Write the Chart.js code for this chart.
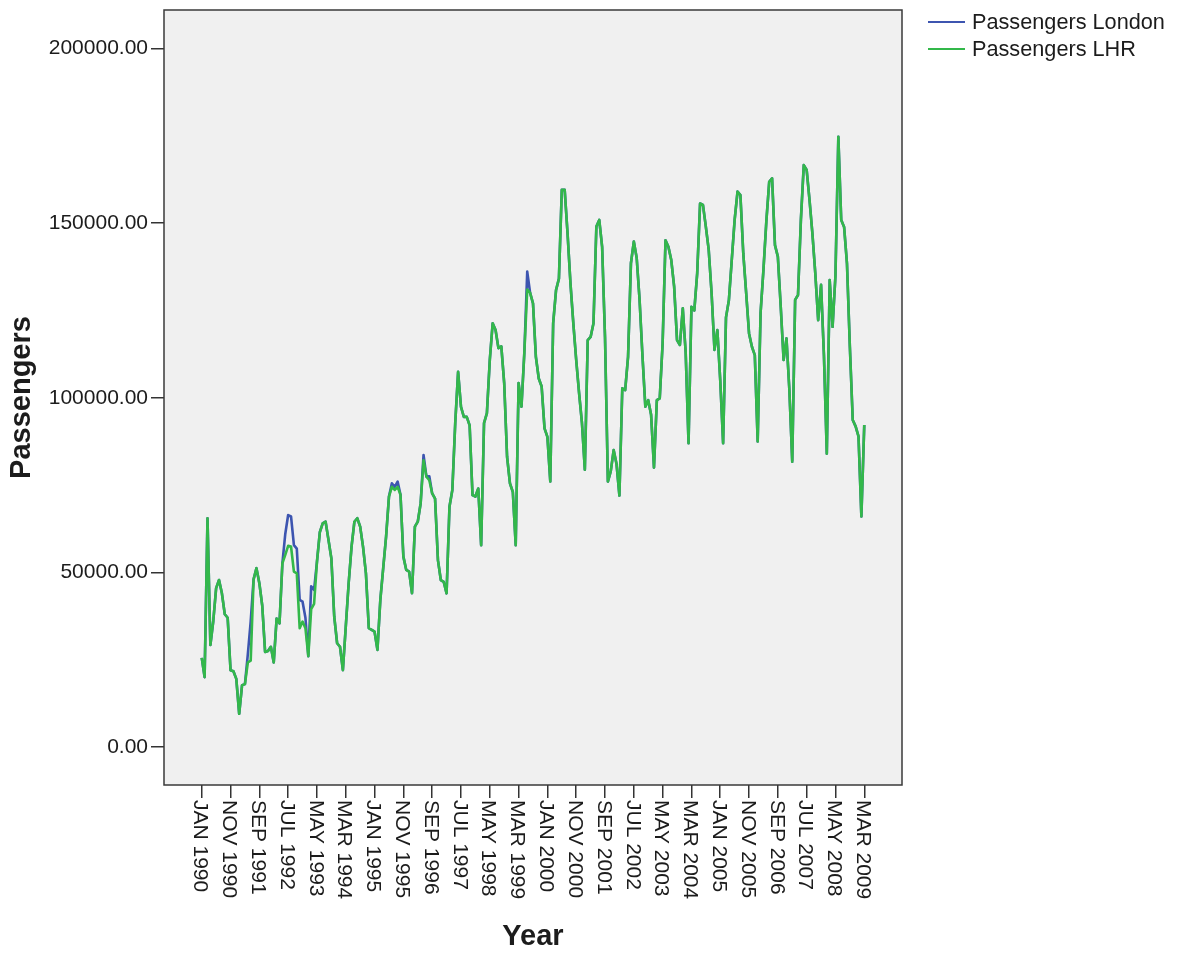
<!DOCTYPE html>
<html>
<head>
<meta charset="utf-8">
<script src="https://cdn.jsdelivr.net/npm/chart.js@4.4.1/dist/chart.umd.min.js"></script>
<style>
  html, body { margin: 0; padding: 0; background: #ffffff; }
  #wrap { width: 1184px; height: 955px; }
</style>
</head>
<body>
<div id="wrap"><canvas id="c" width="1184" height="955"></canvas></div>
<script>
// Monthly passengers, JAN 1990 – MAR 2009
const seriesNames = ['Passengers London', 'Passengers LHR'];
const seriesColors = ['#3d55b0', '#33b84a'];
const monthNames = ['JAN','FEB','MAR','APR','MAY','JUN','JUL','AUG','SEP','OCT','NOV','DEC'];
const startYear = 1990;

const xTickLabels = [
  'JAN 1990','NOV 1990','SEP 1991','JUL 1992','MAY 1993','MAR 1994',
  'JAN 1995','NOV 1995','SEP 1996','JUL 1997','MAY 1998','MAR 1999',
  'JAN 2000','NOV 2000','SEP 2001','JUL 2002','MAY 2003','MAR 2004',
  'JAN 2005','NOV 2005','SEP 2006','JUL 2007','MAY 2008','MAR 2009'
];
const xTickStep = 10;   // months between labelled ticks
const yTicks = [0, 50000, 100000, 150000, 200000];

const passengersLHR = [
  25500, 20000, 65500, 29200, 36000, 45500, 47800, 44000, 38000, 37000, 22000, 21700, // 1990
  19500,  9500, 17700, 18000, 24200, 24700, 48000, 51200, 46900, 40500, 27200, 27500, // 1991
  28700, 24200, 36800, 35400, 52600, 55000, 57600, 57400, 50200, 49700, 34000, 35900, // 1992
  34000, 26000, 39500, 41000, 53000, 61500, 64000, 64500, 59300, 54000, 37300, 29700, // 1993
  28700, 22000, 34400, 46800, 57300, 64500, 65500, 63100, 57300, 49700, 34000, 33500, // 1994
  33000, 27800, 42100, 51200, 60200, 71700, 74500, 73600, 74500, 72200, 54500, 50700, // 1995
  50200, 44000, 63100, 64500, 69800, 82100, 77400, 76400, 72600, 71100, 53500, 47800, // 1996
  47300, 44000, 68800, 73600, 92700, 107400, 97400, 94500, 94500, 92100, 72100, 71700, // 1997
  74000, 57800, 92700, 95600, 110800, 121300, 119400, 114200, 114700, 104200, 83100, 75500, // 1998
  73000, 57800, 104200, 97400, 113000, 131000, 130000, 127000, 111700, 105500, 103200, 91200, // 1999
  88800, 76000, 121300, 130800, 134100, 159500, 159500, 147000, 132800, 121300, 110800, 101300, // 2000
  92700, 79400, 116500, 117400, 121300, 149000, 150900, 143200, 117400, 76000, 79000, 85000, // 2001
  81000, 72000, 102700, 102200, 111700, 138500, 144700, 140000, 128000, 112000, 97400, 99300, // 2002
  95100, 80000, 99300, 99800, 115600, 145100, 143200, 139400, 131800, 116500, 115100, 125600, // 2003
  113000, 87000, 126000, 125000, 135600, 155600, 155200, 149000, 142300, 129900, 113700, 119400, // 2004
  105000, 87000, 123000, 127900, 139400, 150900, 159000, 158000, 141300, 130000, 118400, 114600, // 2005
  112200, 87500, 124200, 136600, 150400, 161800, 162800, 143700, 140400, 126100, 110800, 117000, // 2006
  102200, 81700, 128000, 129400, 150900, 166600, 165200, 156600, 147000, 135600, 122200, 132300, // 2007
  112200, 84000, 133700, 120300, 135000, 174700, 150900, 148900, 138400, 114600, 93600, 91800, // 2008
  88900, 66000, 92200                                                                        // 2009
];

const passengersLondon = [
  25500, 20000, 65500, 29200, 36000, 45500, 47800, 44000, 38000, 37000, 22000, 21700, // 1990
  19500,  9500, 17700, 18000, 26500, 36000, 48000, 51200, 46900, 40500, 27200, 27500, // 1991
  28700, 24200, 36800, 35400, 52600, 61000, 66400, 66000, 57800, 56800, 42100, 41600, // 1992
  37000, 26000, 46000, 45000, 53000, 61500, 64000, 64500, 59300, 54000, 37300, 29700, // 1993
  28700, 22000, 34400, 46800, 57300, 64500, 65500, 63100, 57300, 49700, 34000, 33500, // 1994
  33000, 27800, 42100, 51200, 60200, 71700, 75500, 74500, 76000, 72200, 54500, 50700, // 1995
  50200, 44000, 63100, 64500, 69800, 83600, 77400, 77500, 72600, 71100, 53500, 47800, // 1996
  47300, 44000, 68800, 73600, 92700, 107400, 97400, 94500, 94500, 92100, 72100, 71700, // 1997
  74000, 57800, 92700, 95600, 110800, 121300, 119400, 114200, 114700, 104200, 83100, 75500, // 1998
  73000, 57800, 104200, 97400, 113000, 136100, 130000, 127000, 111700, 105500, 103200, 91200, // 1999
  88800, 76000, 121300, 130800, 134100, 159500, 159500, 147000, 132800, 121300, 110800, 101300, // 2000
  92700, 79400, 116500, 117400, 121300, 149000, 150900, 143200, 117400, 76000, 79000, 85000, // 2001
  81000, 72000, 102700, 102200, 111700, 138500, 144700, 140000, 128000, 112000, 97400, 99300, // 2002
  95100, 80000, 99300, 99800, 115600, 145100, 143200, 139400, 131800, 116500, 115100, 125600, // 2003
  113000, 87000, 126000, 125000, 135600, 155600, 155200, 149000, 142300, 129900, 113700, 119400, // 2004
  105000, 87000, 123000, 127900, 139400, 150900, 159000, 158000, 141300, 130000, 118400, 114600, // 2005
  112200, 87500, 124200, 136600, 150400, 161800, 162800, 143700, 140400, 126100, 110800, 117000, // 2006
  102200, 81700, 128000, 129400, 150900, 166600, 165200, 156600, 147000, 135600, 122200, 132300, // 2007
  112200, 84000, 133700, 120300, 135000, 174700, 150900, 148900, 138400, 114600, 93600, 91800, // 2008
  88900, 66000, 92200                                                                        // 2009
];

const FONT = "'Liberation Sans', Arial, Helvetica, sans-serif";
const TEXT = '#1c1c1c';
const AREA = { left: 164, top: 10, right: 902, bottom: 785 };
const W = 1184, H = 955;

const monthLabel = i => monthNames[i % 12] + ' ' + (startYear + Math.floor(i / 12));
const toPoints = arr => arr.map((v, i) => ({ x: i, y: v }));

// plot background, frame, clockwise x labels and legend
const decor = {
  id: 'decor',
  beforeDraw(chart) {
    const { ctx, chartArea: a } = chart;
    ctx.save();
    ctx.fillStyle = '#f0f0f0';
    ctx.fillRect(a.left, a.top, a.right - a.left, a.bottom - a.top);
    ctx.restore();
  },
  afterDraw(chart) {
    const { ctx, chartArea: a } = chart;
    ctx.save();
    ctx.strokeStyle = '#3a3a3a';
    ctx.lineWidth = 1.5;
    ctx.strokeRect(a.left, a.top, a.right - a.left, a.bottom - a.top);

    // x tick labels, read top to bottom
    const xs = chart.scales.x;
    ctx.fillStyle = TEXT;
    ctx.font = '21px ' + FONT;
    ctx.textAlign = 'left';
    ctx.textBaseline = 'middle';
    xTickLabels.forEach((lab, k) => {
      const px = xs.getPixelForValue(k * xTickStep);
      ctx.save();
      ctx.translate(px - 1.5, a.bottom + 15);
      ctx.rotate(Math.PI / 2);
      ctx.fillText(lab, 0, 0);
      ctx.restore();
    });

    // legend
    const lx = 928, ly = [22, 49];
    seriesNames.forEach((name, k) => {
      ctx.strokeStyle = seriesColors[k];
      ctx.lineWidth = 2;
      ctx.beginPath();
      ctx.moveTo(lx, ly[k]);
      ctx.lineTo(lx + 37, ly[k]);
      ctx.stroke();
      ctx.fillStyle = TEXT;
      ctx.font = '21.7px ' + FONT;
      ctx.textAlign = 'left';
      ctx.textBaseline = 'middle';
      ctx.fillText(name, lx + 44, ly[k] + 1);
    });
    ctx.restore();
  }
};

new Chart(document.getElementById('c'), {
  type: 'line',
  data: {
    datasets: [
      {
        label: seriesNames[0],
        data: toPoints(passengersLondon),
        borderColor: seriesColors[0],
        borderWidth: 2.6,
        pointRadius: 0,
        tension: 0,
        borderJoinStyle: 'round',
        order: 2
      },
      {
        label: seriesNames[1],
        data: toPoints(passengersLHR),
        borderColor: seriesColors[1],
        borderWidth: 2.6,
        pointRadius: 0,
        tension: 0,
        borderJoinStyle: 'round',
        order: 1
      }
    ]
  },
  options: {
    responsive: false,
    animation: false,
    devicePixelRatio: 1,
    layout: { padding: { left: 0, top: AREA.top, right: W - AREA.right, bottom: 0 } },
    plugins: { legend: { display: false }, tooltip: { enabled: false } },
    scales: {
      x: {
        type: 'linear',
        min: -13.1,
        max: 243.1,
        afterBuildTicks: s => { s.ticks = xTickLabels.map((_, k) => ({ value: k * xTickStep })); },
        afterFit: s => { s.height = H - AREA.bottom; s.paddingLeft = 0; s.paddingRight = 0; },
        ticks: { display: false, callback: v => monthLabel(v) },
        grid: { drawOnChartArea: false, drawTicks: true, tickLength: 13, tickColor: '#333333', lineWidth: 1.5 },
        border: { display: false },
        title: {
          display: true, text: 'Year', color: TEXT,
          font: { family: FONT, size: 29, weight: 'bold' },
          padding: { top: 0, bottom: 1 }
        }
      },
      y: {
        type: 'linear',
        min: -10880,
        max: 211000,
        afterBuildTicks: s => { s.ticks = yTicks.map(v => ({ value: v })); },
        afterFit: s => { s.width = AREA.left; s.paddingTop = 0; s.paddingBottom = 0; },
        ticks: {
          color: TEXT, padding: 3,
          font: { family: FONT, size: 21 },
          callback: v => Number(v).toFixed(2)
        },
        grid: { drawOnChartArea: false, drawTicks: true, tickLength: 13, tickColor: '#333333', lineWidth: 1.5 },
        border: { display: false },
        title: {
          display: true, text: 'Passengers', color: TEXT,
          font: { family: FONT, size: 29, weight: 'bold' },
          padding: { top: 5, bottom: 0 }
        }
      }
    }
  },
  plugins: [decor]
});
</script>
</body>
</html>
